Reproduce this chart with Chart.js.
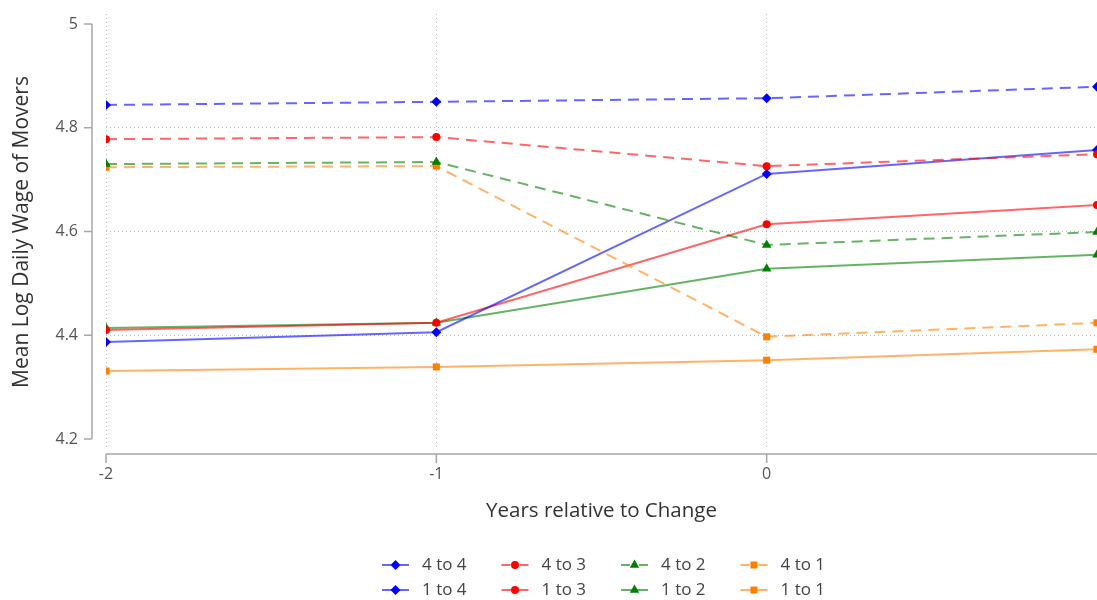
<!DOCTYPE html>
<html>
<head>
<meta charset="utf-8">
<script src="https://cdn.jsdelivr.net/npm/chart.js@4/dist/chart.umd.min.js"></script>
<style>
  html, body { margin: 0; padding: 0; background: #fff; }
  #wrap { width: 1097px; height: 600px; }
</style>
</head>
<body>
<div id="wrap"><canvas id="c" width="1097" height="600"></canvas></div>
<script>
// Years relative to the change of workplace
const years = [-2, -1, 0, 1];
const xTickValues = [-2, -1, 0];
const yTickValues = [4.2, 4.4, 4.6, 4.8, 5];

// Mean log daily wage, movers from quartile 4
const q4to4 = [4.844, 4.850, 4.857, 4.879];
const q4to3 = [4.778, 4.782, 4.726, 4.749];
const q4to2 = [4.730, 4.734, 4.574, 4.599];
const q4to1 = [4.724, 4.726, 4.397, 4.424];
// Mean log daily wage, movers from quartile 1
const q1to4 = [4.387, 4.406, 4.711, 4.757];
const q1to3 = [4.410, 4.424, 4.614, 4.651];
const q1to2 = [4.414, 4.424, 4.528, 4.555];
const q1to1 = [4.331, 4.339, 4.352, 4.373];

const seriesNames = ['4 to 4', '4 to 3', '4 to 2', '4 to 1', '1 to 4', '1 to 3', '1 to 2', '1 to 1'];
const seriesValues = [q4to4, q4to3, q4to2, q4to1, q1to4, q1to3, q1to2, q1to1];

const FONT = '"Open Sans", "Noto Sans", sans-serif';
const palette = [
  { line: 'rgba(0,0,255,0.6)',   point: '#0000ff', style: 'rectRot',  radius: 5 },
  { line: 'rgba(255,0,0,0.6)',   point: '#ff0000', style: 'circle',   radius: 4 },
  { line: 'rgba(0,128,0,0.6)',   point: '#008000', style: 'triangle', radius: 5.5 },
  { line: 'rgba(255,128,0,0.6)', point: '#ff8000', style: 'rect',     radius: 5 }
];

const datasets = seriesValues.map((vals, i) => {
  const p = palette[i % 4];
  const dashed = i < 4;
  return {
    label: seriesNames[i],
    data: years.map((x, k) => ({ x: x, y: vals[k] })),
    borderColor: p.line,
    backgroundColor: p.point,
    borderWidth: 2,
    borderDash: dashed ? [11, 7] : [],
    pointStyle: p.style,
    pointRadius: p.radius,
    pointHoverRadius: p.radius,
    pointBackgroundColor: p.point,
    pointBorderColor: p.point,
    pointBorderWidth: 0,
    tension: 0,
    fill: false
  };
});

// Offset axis lines with outward tick marks
const axisLines = {
  id: 'axisLines',
  afterDraw(chart) {
    const { ctx, chartArea, scales } = chart;
    const ys = scales.y, xs = scales.x;
    ctx.save();
    ctx.strokeStyle = '#a6a6a6';
    ctx.lineWidth = 1.5;
    const ax = chartArea.left - 14;
    const yTop = ys.getPixelForValue(yTickValues[yTickValues.length - 1]);
    const yBot = ys.getPixelForValue(yTickValues[0]);
    ctx.beginPath();
    ctx.moveTo(ax, yTop); ctx.lineTo(ax, yBot);
    yTickValues.forEach(v => {
      const py = ys.getPixelForValue(v);
      ctx.moveTo(ax - 8, py); ctx.lineTo(ax, py);
    });
    const ay = chartArea.bottom + 4;
    ctx.moveTo(xs.getPixelForValue(xTickValues[0]), ay);
    ctx.lineTo(chartArea.right, ay);
    xTickValues.forEach(v => {
      const px = xs.getPixelForValue(v);
      ctx.moveTo(px, ay); ctx.lineTo(px, ay + 9);
    });
    ctx.stroke();
    ctx.restore();
  }
};

// Two-row legend with line + marker swatches
const rowLegend = {
  id: 'rowLegend',
  afterDraw(chart) {
    const { ctx, chartArea } = chart;
    const ds = chart.data.datasets;
    const cols = 4, colW = 119.5, swatch = 27;
    const cx = (chartArea.left + chartArea.right) / 2;
    const x0 = cx - 219.5;
    const rows = [565, 590];
    ctx.save();
    ctx.font = '17px ' + FONT;
    ctx.textBaseline = 'middle';
    ds.forEach((d, i) => {
      const x = x0 + (i % cols) * colW;
      const y = rows[Math.floor(i / cols)];
      ctx.save();
      ctx.strokeStyle = d.borderColor;
      ctx.lineWidth = 2;
      ctx.setLineDash(d.borderDash.length ? [9, 9] : []);
      ctx.beginPath();
      ctx.moveTo(x, y); ctx.lineTo(x + swatch, y);
      ctx.stroke();
      ctx.restore();
      ctx.fillStyle = d.pointBackgroundColor;
      Chart.helpers.drawPoint(ctx, { pointStyle: d.pointStyle, radius: d.pointRadius, borderWidth: 0, rotation: 0 }, x + swatch / 2, y);
      ctx.fillStyle = '#444';
      ctx.fillText(d.label, x + swatch + 13, y);
    });
    ctx.restore();
  }
};

new Chart(document.getElementById('c'), {
  type: 'line',
  data: { datasets: datasets },
  plugins: [axisLines, rowLegend],
  options: {
    responsive: false,
    animation: false,
    layout: { autoPadding: false, padding: { top: 14, right: 0, bottom: 70, left: 0 } },
    plugins: {
      legend: { display: false },
      tooltip: { enabled: false }
    },
    scales: {
      x: {
        type: 'linear',
        min: -2,
        max: 1,
        afterBuildTicks(scale) { scale.ticks = xTickValues.map(v => ({ value: v })); },
        afterFit(scale) { scale.height = 80; },
        grid: {
          drawTicks: false,
          color: 'rgba(0,0,0,0.28)',
          lineWidth: 1
        },
        border: { display: false, dash: [1, 3] },
        ticks: {
          padding: 15,
          color: '#555',
          font: { family: FONT, size: 16 },
          maxRotation: 0,
          callback: v => String(v)
        },
        title: {
          display: true,
          text: 'Years relative to Change',
          color: '#333',
          font: { family: FONT, size: 20.5 },
          padding: { top: 0, bottom: 7 }
        }
      },
      y: {
        type: 'linear',
        min: 4.1788,
        max: 5.0193,
        afterBuildTicks(scale) { scale.ticks = yTickValues.map(v => ({ value: v })); },
        afterFit(scale) { scale.width = 106; },
        grid: {
          drawTicks: true,
          tickLength: 24,
          tickColor: 'rgba(0,0,0,0)',
          lineWidth: 1,
          color: c => (c.tick && c.tick.value > 4.3 && c.tick.value < 4.9) ? 'rgba(0,0,0,0.28)' : 'rgba(0,0,0,0)'
        },
        border: { display: false, dash: [1, 3] },
        ticks: {
          padding: 4,
          color: '#555',
          font: { family: FONT, size: 16 },
          callback: v => String(Math.round(v * 10) / 10)
        },
        title: {
          display: true,
          text: 'Mean Log Daily Wage of Movers',
          color: '#333',
          font: { family: FONT, size: 21 },
          padding: { top: 9, bottom: 0 }
        }
      }
    }
  }
});
</script>
</body>
</html>
